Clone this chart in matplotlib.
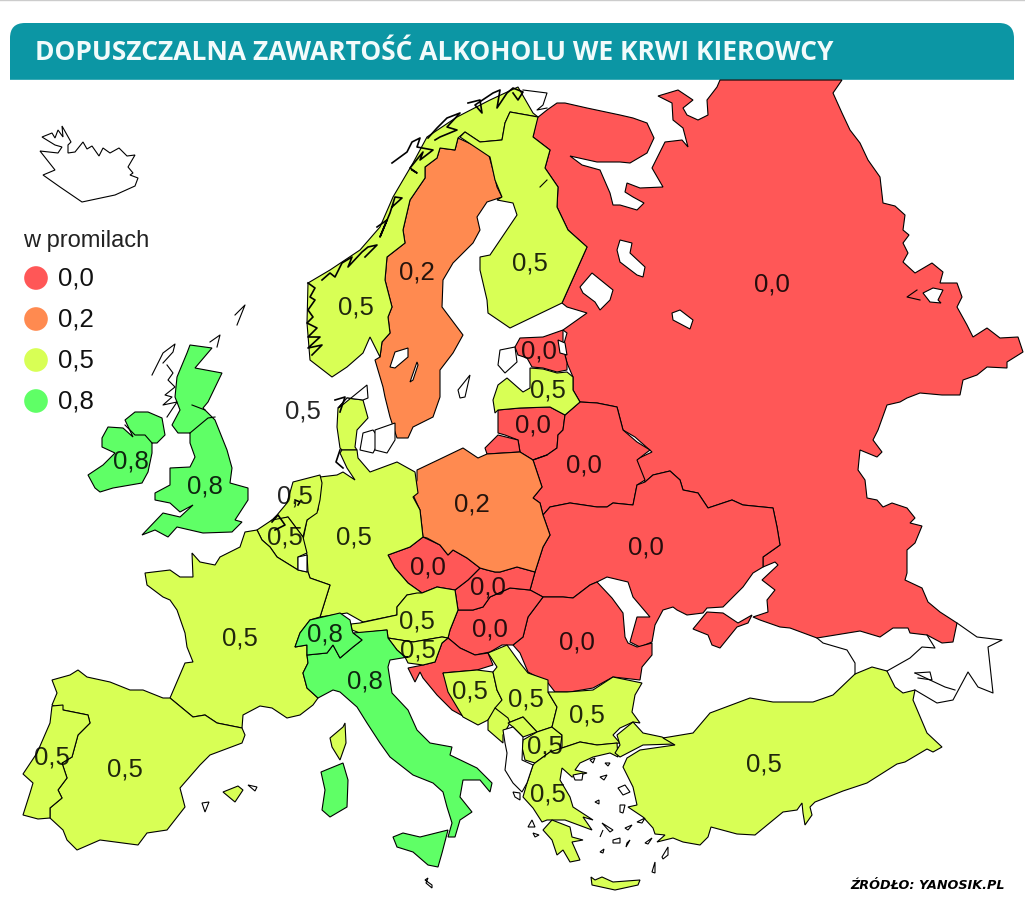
import matplotlib
matplotlib.use("Agg")
import matplotlib.pyplot as plt
from matplotlib.patches import FancyBboxPatch, Polygon

# map outlines (x, y in picture pixels)
russia = [(720,80),(842,80),(833,93),(842,113),(850,130),(860,143),(868,160),(880,177),(883,203),(895,206),(905,215),(903,230),
    (909,235),(903,243),(908,253),(903,262),(915,273),(932,263),(943,272),(940,283),(953,283),(957,283),(962,297),(957,307),
    (967,325),(973,337),(987,328),(1000,338),(1018,337),(1023,352),(1007,362),(1007,368),(987,367),(977,375),(963,380),(960,395),
    (942,395),(920,393),(907,398),(900,402),(887,405),(878,430),(873,440),(882,452),(877,457),(860,450),(858,470),(865,480),
    (867,498),(877,500),(883,507),(892,503),(907,508),(915,518),(910,523),(922,526),(915,543),(907,550),(907,573),(905,580),
    (922,588),(928,602),(940,612),(957,623),(953,642),(942,643),(927,635),(910,633),(908,628),(893,628),(880,637),(860,631),
    (817,638),(790,628),(780,627),(760,620),(753,617),(768,612),(767,600),(775,590),(762,580),(778,565),(775,562),(763,567),
    (763,557),(780,545),(777,527),(773,508),(743,505),(732,500),(708,508),(698,493),(683,490),(680,480),(670,471),(653,475),
    (645,482),(635,460),(652,452),(635,437),(623,430),(617,407),(597,403),(580,402),(573,390),(573,377),(567,363),(563,347),
    (567,333),(563,330),(587,313),(567,307),(562,303),(587,247),(568,230),(557,207),(558,187),(545,168),(550,150),(533,137),
    (537,118),(547,110),(557,103),(565,103),(587,108),(620,115),(633,118),(647,123),(654,138),(647,153),(630,163),(620,162),
    (597,162),(570,156),(582,165),(600,170),(610,193),(613,205),(620,205),(637,210),(644,203),(633,197),(625,192),(627,183),
    (640,188),(663,187),(652,168),(665,142),(682,140),(688,147),(683,128),(673,120),(672,103),(658,96),(678,90),(693,100),
    (683,108),(687,115),(698,120),(708,115),(707,100),(717,87)]
estonia = [(515,347),(520,338),(543,337),(563,330),(563,347),(567,363),(567,370),(557,372),(543,368),(532,367),(527,358),(518,355)]
latvia = [(498,410),(495,413),(493,400),(498,385),(507,378),(523,392),(530,388),(530,368),(543,369),(557,373),(567,372),(573,377),
    (573,390),(580,402),(565,415),(550,407),(520,408)]
lithuania = [(498,410),(520,408),(550,407),(565,415),(563,430),(558,435),(557,448),(547,455),(533,460),(520,452),(518,440),(505,435),(498,433)]
kaliningrad = [(498,435),(518,440),(520,452),(487,454),(485,448),(493,440)]
belarus = [(533,460),(547,455),(557,448),(558,435),(563,430),(565,415),(580,402),(597,403),(617,407),(623,430),(637,442),(650,450),
    (637,460),(645,480),(637,485),(633,505),(613,503),(607,507),(597,507),(570,503),(550,507),(543,515),(540,503),(533,498),(542,487)]
poland = [(417,470),(438,460),(463,448),(478,458),(487,454),(520,452),(533,460),(542,487),(533,498),(540,503),(543,515),(550,535),
    (543,547),(535,572),(517,567),(500,572),(495,572),(487,570),(480,568),(467,558),(453,550),(448,555),(440,545),(427,538),
    (423,537),(420,510),(413,495),(417,480)]
ukraine = [(543,515),(550,507),(570,503),(597,507),(607,507),(613,503),(633,505),(637,485),(645,482),(653,475),(670,471),(680,480),
    (683,490),(698,493),(708,508),(732,500),(743,505),(773,508),(777,527),(780,545),(763,557),(763,567),(753,573),(743,587),
    (723,607),(707,608),(703,613),(687,615),(677,610),(673,607),(663,610),(655,625),(652,642),(640,647),(630,642),(637,617),
    (650,617),(633,597),(628,582),(607,577),(597,582),(590,585),(573,598),(563,597),(543,597),(530,590),(535,572),(543,547),(550,535)]
crimea = [(693,629),(707,612),(723,613),(738,623),(752,615),(748,623),(737,627),(720,648),(712,645),(708,635)]
romania = [(513,645),(523,637),(528,617),(543,597),(563,597),(573,598),(590,585),(597,582),(612,598),(623,613),(625,637),(628,643),
    (637,647),(652,643),(652,655),(642,667),(640,680),(613,677),(593,688),(570,692),(555,692),(548,683),(528,672),(520,653)]
hungary = [(450,630),(458,610),(473,610),(483,607),(490,597),(510,588),(530,590),(543,597),(528,617),(523,637),(513,645),(502,645),
    (490,652),(475,655),(460,648),(448,638)]
slovakia = [(455,590),(468,580),(480,568),(487,570),(495,572),(500,572),(517,567),(535,572),(530,590),(510,588),(490,597),(483,607),(473,610),(458,610)]
czech = [(388,555),(410,547),(423,537),(440,545),(448,555),(453,550),(467,558),(480,568),(468,580),(455,590),(437,587),(422,593),(408,583),(395,568)]
austria = [(351,624),(360,623),(397,615),(397,607),(407,595),(417,593),(422,593),(437,587),(455,590),(458,610),(450,630),(448,638),
    (442,637),(413,642),(388,638),(387,630),(360,633),(352,630)]
slovenia = [(388,638),(413,642),(442,637),(448,638),(442,643),(435,662),(423,665),(408,663),(405,657),(397,650)]
croatia = [(448,638),(460,648),(475,655),(488,653),(493,665),(477,670),(443,673),(447,683),(458,697),(473,717),(470,720),(452,710),
    (437,695),(423,678),(420,672),(415,682),(408,668),(423,665),(435,662),(442,643)]
bosnia = [(443,673),(477,670),(493,672),(497,690),(502,700),(495,710),(488,720),(478,725),(463,717),(448,692)]
serbia = [(488,653),(507,645),(520,663),(528,673),(548,680),(548,692),(557,707),(552,727),(537,732),(523,717),(508,723),(495,708),(502,700),(497,690),(493,672),(497,667)]
montenegro = [(495,708),(508,718),(510,723),(503,735),(503,743),(488,730),(488,720)]
kosovo = [(508,723),(523,717),(537,732),(523,737),(513,727)]
macedonia = [(523,740),(537,732),(552,727),(562,735),(560,750),(550,752),(535,763),(525,760),(522,747)]
albania = [(503,730),(513,727),(523,737),(522,760),(533,765),(527,783),(522,792),(513,783),(505,770),(507,753),(505,743)]
bulgaria = [(548,692),(567,692),(593,690),(613,677),(642,683),(635,695),(632,712),(640,723),(633,722),(620,728),(613,735),(620,743),
    (597,745),(580,742),(562,748),(562,735),(552,727),(557,707)]
greece = [(535,763),(550,752),(562,748),(580,742),(597,745),(617,743),(618,757),(610,753),(593,757),(580,763),(575,770),(587,773),
    (572,777),(562,768),(560,780),(570,797),(573,807),(593,820),(583,817),(592,830),(565,820),(547,820),(542,822),(533,808),(523,797),(527,783),(533,765)]
peloponnese = [(543,830),(552,820),(570,827),(572,837),(583,840),(572,842),(580,860),(570,862),(563,850),(557,855),(552,840)]
crete = [(591,877),(595,880),(602,877),(613,882),(640,880),(638,885),(615,890),(592,885)]
thrace = [(617,735),(633,722),(643,733),(662,737),(675,744),(643,745),(620,757),(615,753),(620,745)]
turkey = [(663,738),(693,733),(710,713),(750,698),(773,702),(813,702),(833,695),(855,674),(872,667),(887,671),(895,687),(903,693),
    (915,690),(913,700),(927,733),(942,747),(933,752),(927,749),(905,762),(897,764),(867,783),(843,791),(815,802),(810,807),(812,815),
    (805,825),(803,813),(802,803),(797,810),(783,812),(755,835),(737,834),(711,827),(708,837),(700,845),(683,842),(673,838),(657,842),
    (665,835),(655,834),(653,828),(643,817),(628,807),(637,805),(633,787),(623,767),(627,758),(640,750),(675,745)]
norway = [(332,377),(310,360),(307,323),(308,283),(330,270),(360,250),(380,227),(393,197),(413,163),(427,137),(457,117),(490,100),
    (518,87),(533,113),(538,117),(510,112),(505,123),(502,140),(480,142),(465,132),(458,138),(455,150),(440,148),(437,158),
    (425,167),(425,178),(410,200),(403,230),(405,243),(387,257),(385,280),(392,307),(388,317),(390,333),(382,342),(380,357),(370,337),(363,353),(347,367)]
finland = [(465,132),(480,142),(502,140),(505,123),(510,112),(538,117),(533,137),(550,150),(545,168),(558,187),(557,207),(568,230),
    (587,247),(562,303),(510,328),(488,313),(487,300),(480,270),(480,257),(490,255),(517,215),(513,203),(497,200),(502,197),(495,180),(490,157),(460,137)]
sweden = [(458,138),(488,152),(493,170),(497,187),(502,197),(487,202),(477,217),(480,230),(473,243),(453,263),(443,280),(442,307),
    (463,335),(453,353),(440,370),(440,397),(433,417),(413,427),(408,438),(397,438),(390,417),(385,397),(383,387),(375,360),
    (380,357),(382,342),(390,333),(388,317),(392,307),(385,280),(387,257),(405,243),(403,230),(410,200),(425,178),(425,167),(437,158),(440,148),(455,150)]
denmark = [(337,427),(338,408),(347,398),(363,400),(368,418),(357,430),(355,447),(357,450),(342,450),(340,448)]
germany = [(320,477),(337,475),(343,472),(355,480),(347,468),(340,453),(342,450),(357,450),(358,458),(370,472),(397,462),(415,472),
    (418,493),(413,497),(420,510),(423,537),(410,547),(388,555),(395,568),(408,583),(422,593),(407,595),(397,607),(397,615),
    (363,622),(347,613),(320,617),(330,585),(310,578),(308,572),(307,555),(303,540),(307,520),(318,510),(320,487)]
netherlands = [(293,482),(320,475),(322,483),(320,500),(317,513),(307,520),(303,537),(288,517),(270,522),(277,515),(287,503)]
belgium = [(257,530),(272,520),(288,517),(303,537),(307,553),(298,557),(298,570),(277,557),(270,547),(262,540)]
luxembourg = [(298,557),(307,555),(307,572),(298,570)]
france = [(192,553),(200,562),(215,565),(220,557),(240,547),(245,532),(257,530),(262,540),(270,547),(277,557),(298,570),(308,572),
    (310,578),(330,585),(320,617),(310,620),(300,633),(295,647),(307,645),(307,655),(308,663),(303,673),(307,688),(318,698),(313,705),
    (300,715),(287,718),(272,708),(260,706),(243,715),(242,728),(217,723),(205,715),(193,717),(170,698),(185,663),(193,662),(187,647),
    (185,633),(177,610),(170,600),(163,597),(147,585),(145,573),(170,570),(180,577),(193,577)]
spain = [(52,680),(70,675),(78,670),(87,677),(110,682),(130,690),(143,690),(163,698),(170,698),(193,717),(205,715),(217,723),(242,728),
    (245,735),(242,743),(210,755),(200,765),(180,788),(185,807),(167,830),(147,833),(138,845),(100,840),(77,850),(67,840),(63,830),
    (50,818),(50,808),(62,798),(58,790),(67,778),(62,763),(72,757),(78,735),(90,723),(88,715),(63,710),(52,705),(57,693)]
portugal = [(52,706),(63,705),(63,710),(88,715),(90,723),(78,735),(72,757),(62,763),(67,778),(58,790),(62,798),(50,808),(50,818),(38,819),
    (23,815),(30,793),(33,783),(23,774),(37,753),(50,723)]
mallorca = [(223,792),(238,786),(243,790),(235,802)]
corsica = [(330,738),(343,727),(345,723),(346,743),(340,760),(332,747)]
sardinia = [(321,772),(343,763),(348,780),(347,807),(330,817),(322,810),(325,790)]
italy = [(318,698),(307,688),(303,673),(308,663),(307,655),(327,653),(333,645),(340,658),(353,647),(362,640),(353,633),(387,630),(388,638),
    (397,650),(405,657),(408,657),(390,660),(388,667),(392,693),(408,710),(417,730),(430,743),(452,747),(450,755),(477,768),(492,783),
    (490,792),(480,780),(463,780),(460,797),(472,812),(460,820),(455,837),(448,837),(452,823),(447,807),(443,792),(433,783),(413,775),
    (390,757),(380,743),(367,723),(357,707),(340,692),(333,690)]
switzerland = [(295,647),(300,633),(310,620),(340,613),(350,620),(352,630),(353,633),(362,640),(353,647),(340,658),(333,645),(327,653),(307,655),(307,645)]
sicily = [(393,837),(403,833),(420,837),(448,830),(442,853),(438,867),(428,865),(413,852),(397,847)]
britain = [(190,345),(212,348),(195,368),(222,373),(208,402),(203,408),(215,420),(227,450),(232,468),(230,483),(248,488),(248,500),
    (235,520),(242,522),(232,532),(203,533),(177,527),(168,537),(155,530),(142,535),(163,513),(180,517),(193,505),(180,512),(170,503),
    (155,500),(155,493),(170,485),(170,468),(190,467),(195,457),(190,443),(190,433),(178,433),(172,425),(180,410),(175,397),(177,377),(187,353)]
ireland = [(125,420),(135,412),(148,412),(162,418),(165,435),(157,443),(152,443),(152,453),(148,472),(142,483),(113,488),(100,492),
    (95,488),(88,475),(103,465),(115,453),(102,447),(102,438),(108,427),(123,428),(133,437)]
iceland = [(42,137),(52,133),(55,138),(58,130),(63,137),(62,126),(71,142),(68,145),(68,153),(75,152),(83,142),(87,149),(92,146),(99,156),
    (103,148),(110,153),(119,148),(127,156),(135,155),(128,167),(133,173),(130,175),(138,178),(135,186),(115,195),(82,202),(60,187),
    (43,175),(55,170),(40,151),(58,153),(62,147),(55,145)]

# lakes and seas cut out of the land
lakes = [[(580,287),(592,273),(613,290),(610,300),(600,310),(595,302),(583,293)],
    [(620,240),(632,243),(630,253),(645,267),(643,277),(637,275),(620,262),(617,250)],
    [(672,313),(680,310),(693,320),(690,329),(673,320)],
    [(923,293),(933,288),(943,290),(938,300),(941,303),(930,302)],
    [(558,340),(565,343),(567,355),(560,353)],
    [(390,367),(395,352),(408,348),(408,357),(395,368)],
    [(410,382),(417,362),(418,365),(413,380)]]
# islands and neighbours left without a fill
blank_shapes = [albania, luxembourg,
    [(458,390),(470,375),(465,397),(460,398)],
    [(340,407),(367,385),(368,398),(363,400),(347,398),(338,408)],
    [(363,433),(373,430),(380,440),(373,453),(360,450)],
    [(375,430),(395,423),(395,440),(387,453),(375,450)],
    [(500,350),(515,347),(517,362),(505,373),(498,365)],
    [(248,785),(257,787),(255,791)],[(202,803),(209,802),(205,812)],
    [(428,878),(425,880),(432,885),(432,888),(426,883)],
    [(573,775),(583,773),(582,780),(575,780)],[(590,760),(595,758),(593,763)],[(605,763),(610,763),(608,766)],[(600,777),(607,775),(604,780)],
    [(618,788),(625,785),(630,792),(623,795)],[(595,802),(599,800),(599,804)],[(620,805),(625,805),(623,813),(620,812)],
    [(637,822),(645,818),(642,823)],[(602,823),(613,830),(610,832)],[(625,828),(632,825),(628,830)],[(603,830),(600,837)],
    [(613,840),(620,838),(620,843),(613,843)],[(627,843),(630,840),(626,847)],[(645,843),(652,838),(648,844)],[(600,852),(604,849),(603,853)],
    [(662,857),(668,847),(668,855),(663,859)],[(652,872),(655,862),(655,873)],
    [(513,792),(520,793),(520,800),(515,797)],[(532,820),(535,827),(528,827)],[(533,833),(539,835),(535,837)]]
# black clutter of fjords and skerries along the coasts
skerries = [[(308,283),(315,288),(310,297),(315,300),(308,310),(313,317),(307,323),(317,328),(308,337),(320,337),(308,348),(322,345),(312,355)],
    [(322,280),(330,273),(335,277),(342,263),(352,257),(348,267),(362,252),(368,247),(377,245),(365,257)],
    [(377,227),(387,220),(380,237),(390,213),(395,197),(402,198),(392,207)],
    [(392,163),(407,152),(412,142),(420,138),(417,147),(433,150),(420,160),(423,152),(410,168),(417,173),(412,170)],
    [(428,138),(437,128),(447,118),(460,113),(447,127),(457,130),(440,137),(435,140)],
    [(468,103),(480,100),(482,113),(475,105),(493,93),(500,90),(497,108),(507,93),(513,88),(523,92),(518,100),(513,93)],
    [(335,400),(345,397),(340,412)],[(340,450),(336,462),(343,468)],
    [(272,522),(278,515),(285,525),(275,530)],[(295,500),(300,502),(298,505)]]
skerries_thin = [[(152,375),(163,353),(175,344),(173,352),(163,363)],
    [(167,365),(173,373),(168,380),(175,387),(165,395),(172,397),(163,405),(177,402),(167,417)],
    [(210,342),(220,335),(217,347)],[(235,315),(245,305),(237,325)],
    [(523,90),(547,93),(543,105),(537,110),(547,108)],
    [(917,290),(907,297),(920,300)],
    [(540,187),(547,180)]]
caucasus_lines = [[(817,638),(823,643),(847,650),(855,663),(855,674)],
    [(887,671),(910,658),(922,647),(935,648),(927,635)],
    [(957,623),(977,637),(1002,640),(988,647),(993,693),(978,687),(968,672),(953,700),(937,703),(915,690)],
    [(915,673),(930,680),(945,687),(955,690)],[(915,673),(930,672),(932,680),(918,678)]]
inner_lines = [[(190,433),(208,418),(215,417)],[(192,405),(205,410)],
    [(125,425),(135,435),(145,435),(152,443)],[(547,455),(533,460)]]

level_colors = {"0,0": "#FF5757", "0,2": "#FF8A50", "0,5": "#D8FF55", "0,8": "#5FFF66"}
red_shapes = [russia, estonia, lithuania, kaliningrad, belarus, ukraine, crimea, romania, hungary, slovakia, czech, croatia]
orange_shapes = [poland, sweden]
yellow_shapes = [latvia, norway, finland, denmark, germany, netherlands, belgium, france, spain, portugal, mallorca, corsica, austria,
    slovenia, bosnia, serbia, montenegro, kosovo, macedonia, bulgaria, greece, peloponnese, crete, thrace, turkey]
green_shapes = [britain, ireland, italy, switzerland, sardinia, sicily]

legend_values = ["0,0", "0,2", "0,5", "0,8"]
legend_y = [278, 319, 360, 401]

label_values = ["0,0","0,0","0,0","0,0","0,0","0,0","0,0","0,0","0,0",
    "0,2","0,2",
    "0,5","0,5","0,5","0,5","0,5","0,5","0,5","0,5","0,5","0,5","0,5","0,5","0,5","0,5","0,5","0,5","0,5","0,5",
    "0,8","0,8","0,8","0,8"]
label_x = [772,539,533,584,646,428,488,490,577, 417,472,
    530,356,548,303,295,285,354,240,417,418,470,526,587,545,548,764,125,52, 131,205,325,365]
label_y = [284,351,425,465,547,567,587,629,642, 272,504,
    263,307,390,411,496,537,537,638,621,650,691,699,715,746,794,764,769,757, 461,486,634,681]

fig = plt.figure(figsize=(10.25, 9.05), dpi=100)
ax = fig.add_axes([0, 0, 1, 1])
ax.set_xlim(0, 1025)
ax.set_ylim(905, 0)
ax.axis("off")

# title bar, square at the bottom, so cover the lower half of a rounded box
banner = FancyBboxPatch((10, 23), 1004, 80, boxstyle="round,pad=0,rounding_size=15", fc="#0C96A4", ec="none", zorder=1)
ax.add_patch(banner)
ax.fill([0, 1025, 1025, 0], [80, 80, 110, 110], color="white", zorder=2)
ax.plot([0, 1025], [0.5, 0.5], color="#cccccc", lw=1, zorder=2)
ax.text(35, 53, "DOPUSZCZALNA ZAWARTOŚĆ ALKOHOLU WE KRWI KIEROWCY", color="#F2FBFB", fontsize=19,
    fontweight="bold", family="Open Sans", va="center", ha="left", zorder=3)

for shapes, key in [(red_shapes, "0,0"), (orange_shapes, "0,2"), (yellow_shapes, "0,5"), (green_shapes, "0,8")]:
    for pts in shapes:
        ax.add_patch(Polygon(pts, closed=True, fc=level_colors[key], ec="black", lw=0.8, zorder=3))

for pts in lakes + blank_shapes + [iceland]:
    ax.add_patch(Polygon(pts, closed=True, fc="white", ec="black", lw=0.8, zorder=4))
for pts in skerries:
    ax.plot(*zip(*pts), color="black", lw=1.2, zorder=5)
for pts in skerries_thin + caucasus_lines + inner_lines:
    ax.plot(*zip(*pts), color="black", lw=0.8, zorder=5)

ax.scatter([36] * len(legend_y), legend_y, s=290, c=[level_colors[v] for v in legend_values], linewidths=0, zorder=5)
for v, y in zip(legend_values, legend_y):
    ax.text(58, y, v, fontsize=18.5, family="Liberation Sans", va="center", ha="left", color="#111111", zorder=6)
ax.text(23, 241, "w promilach", fontsize=17, family="Liberation Sans", va="center", ha="left", color="#222222", zorder=6)

for v, x, y in zip(label_values, label_x, label_y):
    ax.text(x, y, v, fontsize=18.5, family="Liberation Sans", va="center", ha="center", color="black", alpha=0.85, zorder=6)

ax.text(1005, 885, "ŹRÓDŁO: YANOSIK.PL", fontsize=9.2, fontweight="bold", fontstyle="italic", family="DejaVu Sans",
    va="center", ha="right", color="black", zorder=6)

fig.savefig("out.png", dpi=100)
